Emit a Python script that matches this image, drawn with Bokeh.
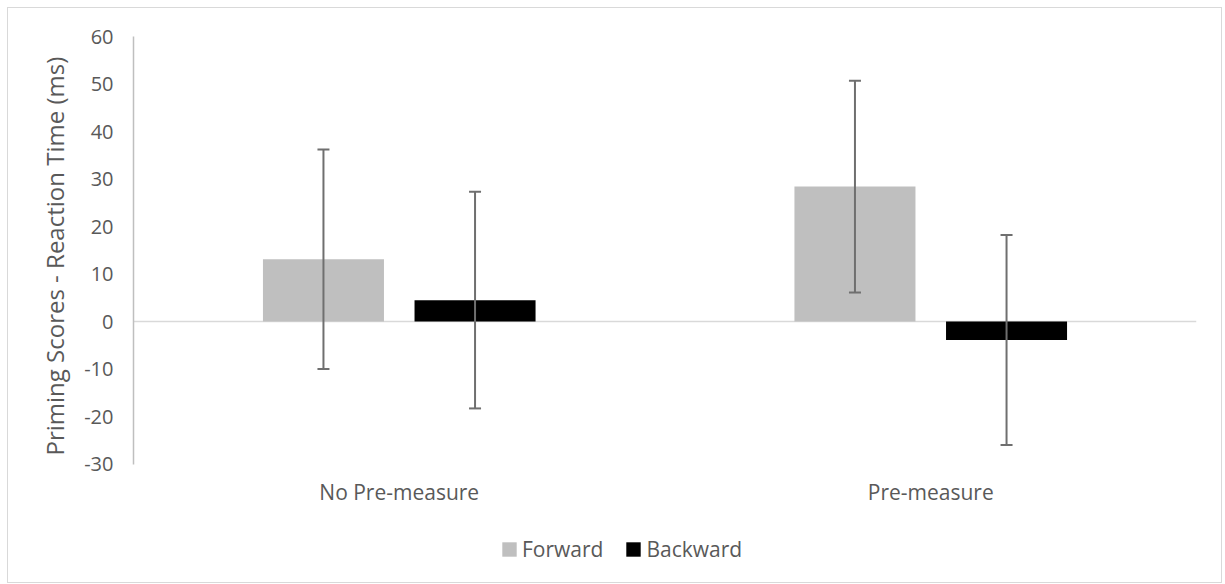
from bokeh.plotting import figure
from bokeh.models import (ColumnDataSource, FactorRange, Range1d, Whisker, TeeHead,
                          Span, Legend, LegendItem, FixedTicker, Title)
from bokeh.transform import dodge
from bokeh.embed import file_html
from bokeh.resources import INLINE

categories = ["No Pre-measure", "Pre-measure"]
forward = [13.1, 28.4]
backward = [4.5, -3.9]
forward_err = [23.1, 22.3]
backward_err = [22.8, 22.1]
y_ticks = [-30, -20, -10, 0, 10, 20, 30, 40, 50, 60]
y_min, y_max = -30, 60
y_title = "Priming Scores - Reaction Time (ms)"

FONT = "Open Sans"
TXT = "#595959"

src = ColumnDataSource(data=dict(
    cat=categories,
    fwd=forward,
    bwd=backward,
    fwd_up=[v + e for v, e in zip(forward, forward_err)],
    fwd_lo=[v - e for v, e in zip(forward, forward_err)],
    bwd_up=[v + e for v, e in zip(backward, backward_err)],
    bwd_lo=[v - e for v, e in zip(backward, backward_err)],
))

# frame extends below the value axis to host the legend
H, TOP, BOT = 576, 28, 8
frame_h = H - TOP - BOT
axis_px = 427.5  # pixel span of -30..60
y_start = y_max - (y_max - y_min) * frame_h / axis_px

p = figure(x_range=FactorRange(factors=categories, range_padding=0),
           y_range=Range1d(y_start, y_max),
           width=1215, height=H, output_backend="svg", toolbar_location=None,
           min_border_left=125, min_border_right=27, min_border_top=TOP, min_border_bottom=BOT)
p.styles = {"border": "1px solid #d9d9d9", "margin": "7px 0 0 7px"}
p.outline_line_color = None
p.xgrid.grid_line_color = None
p.ygrid.grid_line_color = None
p.background_fill_color = "white"
p.border_fill_color = "white"

zero = Span(location=0, dimension="width", line_color="#d9d9d9", line_width=1.5, level="underlay")
p.add_layout(zero)

OFF = 0.1426
W = 0.2277
r_f = p.vbar(x=dodge("cat", -OFF, range=p.x_range), top="fwd", bottom=0, width=W,
             source=src, fill_color="#bfbfbf", line_color=None)
r_b = p.vbar(x=dodge("cat", OFF, range=p.x_range), top="bwd", bottom=0, width=W,
             source=src, fill_color="#000000", line_color=None)

EB = "#6f6f6f"
for off, up, lo in [(-OFF, "fwd_up", "fwd_lo"), (OFF, "bwd_up", "bwd_lo")]:
    w = Whisker(base=dodge("cat", off, range=p.x_range), upper=up, lower=lo, source=src,
                line_color=EB, line_width=2, level="overlay",
                upper_head=TeeHead(size=12, line_color=EB, line_width=2),
                lower_head=TeeHead(size=12, line_color=EB, line_width=2))
    p.add_layout(w)

# y axis
ya = p.yaxis[0]
ya.bounds = (y_min, y_max)
ya.ticker = FixedTicker(ticks=y_ticks)
ya.major_label_overrides = {t: str(t) for t in y_ticks}
ya.axis_line_color = "#bfbfbf"
ya.axis_line_width = 1.5
ya.major_tick_line_color = None
ya.minor_tick_line_color = None
ya.major_tick_out = 0
ya.major_tick_in = 0
ya.major_label_standoff = 20
ya.major_label_text_font = FONT
ya.major_label_text_font_size = "20px"
ya.major_label_text_color = TXT

# y-axis title, placed along the -30..60 span
yt = Title(text=y_title, align="left", offset=121, standoff=22,
           text_font=FONT, text_font_size="24px", text_font_style="normal",
           text_color=TXT)
p.add_layout(yt, "left")

# x axis, pinned at the bottom of the value range
xa = p.xaxis[0]
xa.fixed_location = y_min
xa.axis_line_color = None
xa.major_tick_line_color = None
xa.minor_tick_line_color = None
xa.major_tick_out = 0
xa.major_tick_in = 0
xa.major_label_standoff = 14
xa.major_label_text_font = FONT
xa.major_label_text_font_size = "21px"
xa.major_label_text_color = TXT

legend = Legend(items=[LegendItem(label="Forward", renderers=[r_f]),
                       LegendItem(label="Backward", renderers=[r_b])],
                orientation="horizontal", location=(367, 13),
                glyph_width=18, glyph_height=18, label_standoff=4, spacing=21,
                padding=0, margin=0, border_line_color=None, background_fill_alpha=0,
                label_text_font=FONT, label_text_font_size="21px", label_text_color=TXT)
p.add_layout(legend, "center")

open("out.html", "w").write(file_html(p, INLINE))
